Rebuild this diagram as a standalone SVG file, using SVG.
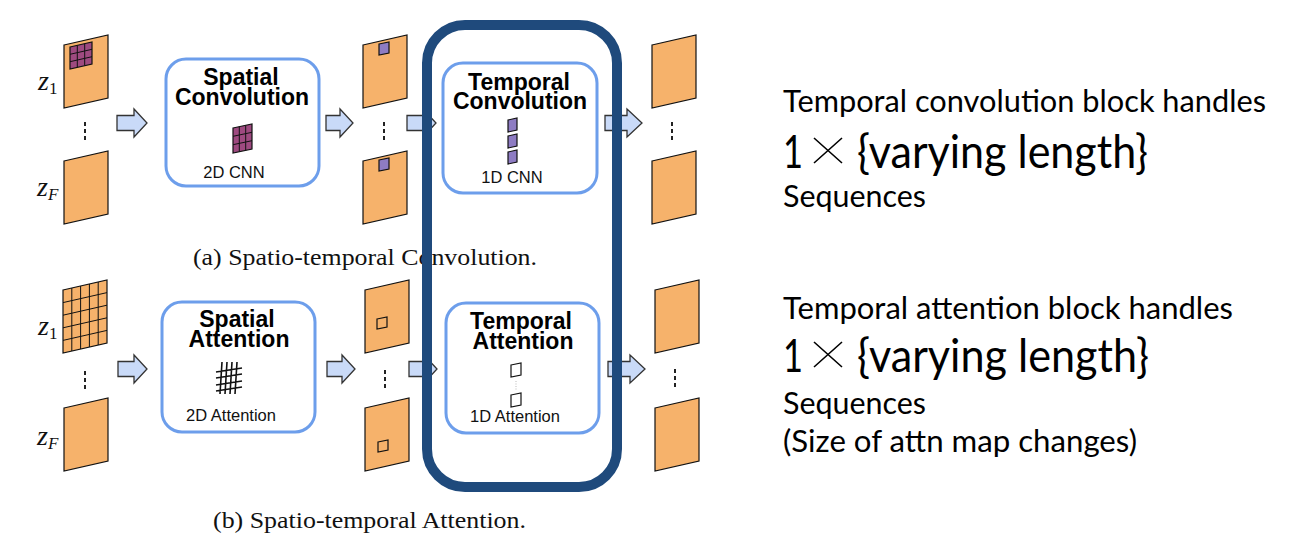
<svg xmlns="http://www.w3.org/2000/svg" xmlns:xlink="http://www.w3.org/1999/xlink" width="1289" height="549" viewBox="0 0 1289 549">
<style>
.frame{fill:#f6b26b;stroke:#111;stroke-width:1.2;stroke-linejoin:miter}
.box{fill:#fff;stroke:#6d9eeb;stroke-width:3}
.arrow{fill:#c9daf8;stroke:#333;stroke-width:1.3;stroke-linejoin:miter}
.dot{fill:#222}
.title{font-family:"Liberation Sans",Arial,sans-serif;font-weight:bold;font-size:23px;fill:#000;text-anchor:middle}
.sub{font-family:"Liberation Sans",Arial,sans-serif;font-size:16.5px;fill:#111;text-anchor:middle}
.cap{font-family:"Liberation Serif","Times New Roman",serif;font-size:24px;fill:#111}
.zl{font-family:"Liberation Serif","Times New Roman",serif;font-style:italic;font-size:28px;fill:#111}
.zs{font-family:"Liberation Serif","Times New Roman",serif;font-size:17px;fill:#111}
.zsi{font-family:"Liberation Serif","Times New Roman",serif;font-style:italic;font-size:17px;fill:#111}
.rt{font-family:Lato,"Open Sans",sans-serif;font-size:30px;fill:#000}
.rb{font-family:Lato,"Open Sans",sans-serif;font-size:46px;fill:#000}
.gl{stroke:#111;stroke-width:1;fill:none}
.hl{fill:none;stroke:#1f4a7c;stroke-width:10}
</style>
<defs>
<path id="frm" class="frame" d="M0,10 L44,0 L44,63 L0,73 Z"/>
<g id="dots3"><rect x="-1" y="-2" width="2" height="4"/><rect x="-1" y="5" width="2" height="4"/><rect x="-1" y="12" width="2" height="4"/></g>
</defs>
<rect width="1289" height="549" fill="#fff"/>

<!-- captions -->
<text class="cap" x="193" y="265" textLength="344" lengthAdjust="spacingAndGlyphs">(a) Spatio-temporal Convolution.</text>
<text class="cap" x="213" y="528" textLength="313" lengthAdjust="spacingAndGlyphs">(b) Spatio-temporal Attention.</text>

<!-- ===== Row (a) ===== -->
<g id="a-input">
<text class="zl" x="38" y="90">z</text><text class="zs" x="49" y="94">1</text>
<text class="zl" x="37" y="196">z</text><text class="zsi" x="48" y="200">F</text>
<use href="#frm" x="64" y="35"/>
<g>
<path d="M70,47 L92,42 L92,64 L70,69 Z" fill="#9e4a80" stroke="#111" stroke-width="1.2"/>
<path class="gl" d="M77.3,45.3 L77.3,67.3 M84.7,43.7 L84.7,65.7 M70,54.3 L92,49.3 M70,61.7 L92,56.7"/>
</g>
<use href="#dots3" x="85" y="124" class="dot"/>
<use href="#frm" x="64" y="151"/>
</g>

<g id="a-spatial-conv">
<rect class="box" x="166" y="59" width="153" height="127" rx="20"/>
<text class="title" x="241" y="85">Spatial</text>
<text class="title" x="242" y="105">Convolution</text>
<path d="M233,128 L252,124 L252,149 L233,153 Z" fill="#9e4a80" stroke="#111" stroke-width="1.2"/>
<path class="gl" d="M239.3,126.7 L239.3,151.7 M245.7,125.3 L245.7,150.3 M233,136.3 L252,132.3 M233,144.7 L252,140.7"/>
<text class="sub" x="234" y="178">2D CNN</text>
</g>

<g id="a-mid">
<use href="#frm" x="363" y="35"/>
<path d="M379,44 L389,42 L389,53 L379,55 Z" fill="#8e7cc3" stroke="#111" stroke-width="1.2"/>
<use href="#dots3" x="384" y="124" class="dot"/>
<use href="#frm" x="363" y="151"/>
<path d="M379,160 L389,158 L389,169 L379,171 Z" fill="#8e7cc3" stroke="#111" stroke-width="1.2"/>
</g>

<g id="a-temporal-conv">
<rect class="box" x="443" y="63" width="154" height="130" rx="20"/>
<text class="title" x="519" y="90">Temporal</text>
<text class="title" x="520" y="109">Convolution</text>
<path d="M508,120 L517,118 L517,130 L508,132 Z M508,136 L517,134 L517,146 L508,148 Z M508,152 L517,150 L517,162 L508,164 Z" fill="#8e7cc3" stroke="#111" stroke-width="1.2"/>
<text class="sub" x="512" y="183">1D CNN</text>
</g>

<g id="a-output">
<use href="#frm" x="652" y="35"/>
<use href="#dots3" x="672" y="124" class="dot"/>
<use href="#frm" x="652" y="151"/>
</g>

<!-- ===== Row (b) ===== -->
<g id="b-input">
<text class="zl" x="38" y="335">z</text><text class="zs" x="49" y="339">1</text>
<text class="zl" x="37" y="445">z</text><text class="zsi" x="48" y="449">F</text>
<use href="#frm" x="63" y="280"/>
<path class="gl" d="M71.8,288 L71.8,351 M80.6,286 L80.6,349 M89.4,284 L89.4,347 M98.2,282 L98.2,345 M63,302.6 L107,292.6 M63,315.2 L107,305.2 M63,327.8 L107,317.8 M63,340.4 L107,330.4"/>
<use href="#dots3" x="85" y="373" class="dot"/>
<use href="#frm" x="64" y="398"/>
</g>

<g id="b-spatial-attn">
<rect class="box" x="162" y="302" width="153" height="130" rx="20"/>
<text class="title" x="237" y="327">Spatial</text>
<text class="title" x="239" y="347">Attention</text>
<path d="M222,362 L220,394 M227,362 L225,394 M232,362 L230,394 M237,362 L235,394 M216,372 L242,368 M216,378 L242,374 M216,385 L242,381 M216,391 L242,387" stroke="#111" stroke-width="1.6" fill="none"/>
<text class="sub" x="231" y="421">2D Attention</text>
</g>

<g id="b-mid">
<use href="#frm" x="365" y="280"/>
<path d="M377,319 L387,317 L387,327 L377,329 Z" fill="none" stroke="#111" stroke-width="1.2"/>
<use href="#dots3" x="385" y="372" class="dot"/>
<use href="#frm" x="365" y="398"/>
<path d="M378,442 L388,440 L388,450 L378,452 Z" fill="none" stroke="#111" stroke-width="1.2"/>
</g>

<g id="b-temporal-attn">
<rect class="box" x="446" y="303" width="153" height="130" rx="20"/>
<text class="title" x="521" y="329">Temporal</text>
<text class="title" x="523" y="349">Attention</text>
<path d="M511,365 L521,363 L521,375 L511,377 Z M511,395 L521,393 L521,405 L511,407 Z" fill="#fff" stroke="#111" stroke-width="1.2"/>
<path d="M516,381 L516,390" stroke="#bbb" stroke-width="1" stroke-dasharray="1,1.5"/>
<text class="sub" x="515" y="422">1D Attention</text>
</g>

<g id="b-output">
<use href="#frm" x="655" y="280"/>
<use href="#dots3" x="675" y="371" class="dot"/>
<use href="#frm" x="655" y="398"/>
</g>

<!-- connectors -->
<g id="connectors">
<path class="arrow" d="M117,115.5 L134,115.5 L134,109 L147,123 L134,137 L134,130.5 L117,130.5 Z"/>
<path class="arrow" d="M326,115.5 L340,115.5 L340,109 L353,123 L340,137 L340,130.5 L326,130.5 Z"/>
<path class="arrow" d="M407,115.5 L423,115.5 L423,109 L436,123 L423,137 L423,130.5 L407,130.5 Z"/>
<path class="arrow" d="M605,115.5 L627,115.5 L627,109 L642,123 L627,137 L627,130.5 L605,130.5 Z"/>
<path class="arrow" d="M118,361.5 L134,361.5 L134,355 L147,369 L134,383 L134,376.5 L118,376.5 Z"/>
<path class="arrow" d="M327,361.5 L342,361.5 L342,355 L355,369 L342,383 L342,376.5 L327,376.5 Z"/>
<path class="arrow" d="M409,361.5 L424,361.5 L424,355 L437,369 L424,383 L424,376.5 L409,376.5 Z"/>
<path class="arrow" d="M608,361.5 L630,361.5 L630,355 L645,369 L630,383 L630,376.5 L608,376.5 Z"/>
</g>

<!-- highlight around temporal blocks -->
<g id="temporal-highlight">
<rect class="hl" x="427" y="25" width="190" height="462" rx="38"/>
</g>

<!-- right-side notes -->
<g id="note-conv">
<text class="rt" x="783" y="112" textLength="483" lengthAdjust="spacingAndGlyphs">Temporal convolution block handles</text>
<text class="rb" x="783" y="168" textLength="20" lengthAdjust="spacingAndGlyphs">1</text>
<path d="M814,138 L842,163 M842,138 L814,163" stroke="#000" stroke-width="1.6" fill="none"/>
<text class="rb" x="857" y="168" textLength="291" lengthAdjust="spacingAndGlyphs">{varying length}</text>
<text class="rt" x="783" y="207" textLength="143" lengthAdjust="spacingAndGlyphs">Sequences</text>
</g>
<g id="note-attn">
<text class="rt" x="783" y="319" textLength="450" lengthAdjust="spacingAndGlyphs">Temporal attention block handles</text>
<text class="rb" x="783" y="372" textLength="20" lengthAdjust="spacingAndGlyphs">1</text>
<path d="M814,342 L842,367 M842,342 L814,367" stroke="#000" stroke-width="1.6" fill="none"/>
<text class="rb" x="857" y="372" textLength="292" lengthAdjust="spacingAndGlyphs">{varying length}</text>
<text class="rt" x="783" y="414" textLength="143" lengthAdjust="spacingAndGlyphs">Sequences</text>
<text class="rt" x="783" y="452" textLength="354" lengthAdjust="spacingAndGlyphs">(Size of attn map changes)</text>
</g>
</svg>
